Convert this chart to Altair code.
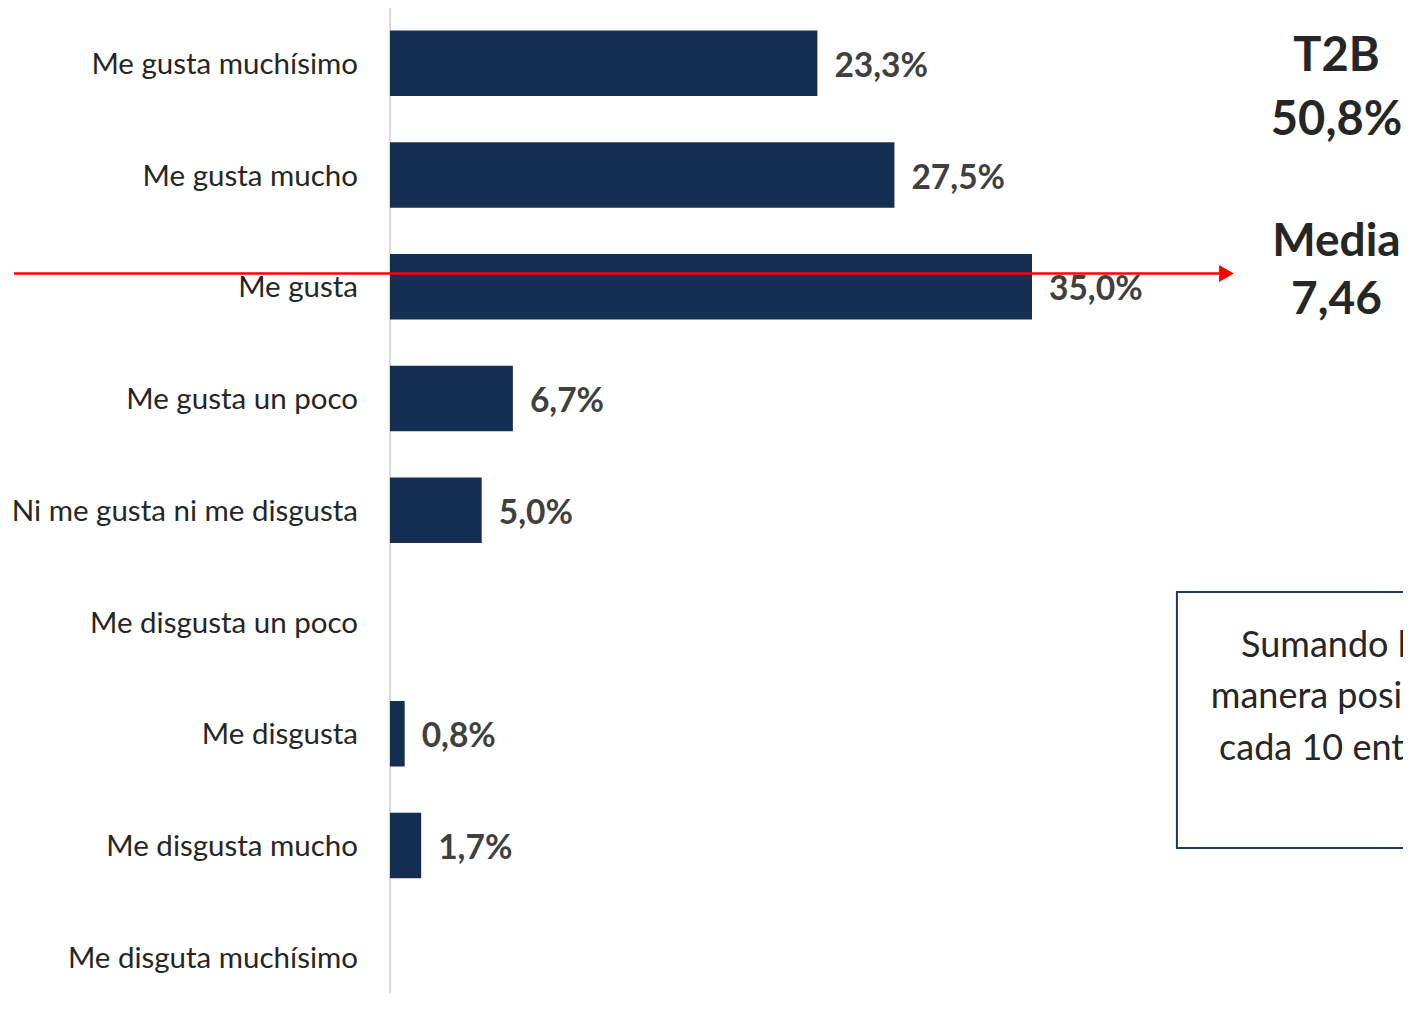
import altair as alt
import pandas as pd

categories = [
    "Me gusta muchísimo",
    "Me gusta mucho",
    "Me gusta",
    "Me gusta un poco",
    "Ni me gusta ni me disgusta",
    "Me disgusta un poco",
    "Me disgusta",
    "Me disgusta mucho",
    "Me disguta muchísimo",
]
values = [23.3, 27.5, 35.0, 6.7, 5.0, 0.0, 0.8, 1.7, 0.0]
value_labels = ["23,3%", "27,5%", "35,0%", "6,7%", "5,0%", "", "0,8%", "1,7%", ""]

t2b_lines = ["T2B", "50,8%"]
media_lines = ["Media", "7,46"]
box_lines = ["Sumando los que valoran de", "manera positiva, 5 de", "cada 10 entrevistados"]

df = pd.DataFrame({
    "cat": categories,
    "value": values,
    "label": value_labels,
    "row": list(range(len(categories))),
})

FONT = "Lato"
BAR = "#142f52"
W = 1013
PX_PER = 18.343

xs = alt.Scale(domain=[0, W / PX_PER], nice=False, zero=False)
ys = alt.Scale(domain=[-0.492, 8.323], reverse=True, nice=False, zero=False)

base = alt.Chart(df)

axis_line = alt.Chart(df).mark_rule(color="#d9d9d9", strokeWidth=2).encode(
    x=alt.X("z:Q", scale=xs, axis=None)
).transform_calculate(z="0").transform_filter("datum.row == 0")

bars = base.transform_filter("datum.value > 0").transform_calculate(
    y1="datum.row - 0.29", y2="datum.row + 0.295"
).mark_bar(color=BAR).encode(
    x=alt.X("value:Q", scale=xs, axis=None),
    x2=alt.datum(0),
    y=alt.Y("y1:Q", scale=ys, axis=None),
    y2="y2:Q",
)

cat_labels = base.transform_calculate(zero="0").mark_text(
    align="right", baseline="middle", dx=-32, dy=2, font=FONT, fontSize=29.5, color="#262626"
).encode(
    x=alt.X("zero:Q", scale=xs, axis=None),
    y=alt.Y("row:Q", scale=ys, axis=None),
    text="cat:N",
)

val_labels = base.transform_filter("datum.value > 0").mark_text(
    align="left", baseline="middle", dx=17, dy=4, font=FONT, fontSize=33.5,
    fontWeight="bold", color="#404040"
).encode(
    x=alt.X("value:Q", scale=xs, axis=None),
    y=alt.Y("row:Q", scale=ys, axis=None),
    text="label:N",
)

def text_block(lines, x, y0, dy_row, size, weight, align, clip=False):
    d = pd.DataFrame({"t": lines, "i": list(range(len(lines)))})
    return alt.Chart(d).transform_calculate(
        yy=f"{y0} + datum.i * {dy_row}", xx=f"{x}"
    ).mark_text(
        align=align, baseline="middle", font=FONT, fontSize=size,
        fontWeight=weight, color="#262626", clip=clip
    ).encode(
        x=alt.X("xx:Q", scale=xs, axis=None),
        y=alt.Y("yy:Q", scale=ys, axis=None),
        text="t:N",
    )

t2b = text_block(t2b_lines, 51.6, -0.05, 0.565, 47, "bold", "center")
media = text_block(media_lines, 51.6, 1.60, 0.52, 46, "bold", "center")

arrow_df = pd.DataFrame({"x1": [-20.5], "x2": [45.2], "y": [1.885]})
arrow_line = alt.Chart(arrow_df).mark_rule(color="#ff0000", strokeWidth=2.5).encode(
    x=alt.X("x1:Q", scale=xs, axis=None),
    x2="x2:Q",
    y=alt.Y("y:Q", scale=ys, axis=None),
)
arrow_head = alt.Chart(arrow_df).transform_calculate(hx="45.6").mark_point(
    shape="triangle-right", filled=True, color="#ff0000", size=290, opacity=1
).encode(
    x=alt.X("hx:Q", scale=xs, axis=None),
    y=alt.Y("y:Q", scale=ys, axis=None),
)

box_df = pd.DataFrame({"x1": [42.9], "x2": [70.0], "y1": [4.735], "y2": [7.025]})
box = alt.Chart(box_df).mark_rect(
    fill="white", stroke="#1f3864", strokeWidth=2, clip=True
).encode(
    x=alt.X("x1:Q", scale=xs, axis=None),
    x2="x2:Q",
    y=alt.Y("y1:Q", scale=ys, axis=None),
    y2="y2:Q",
)

box_text = alt.layer(
    text_block([box_lines[0]], 46.4, 5.215, 0.46, 36, "normal", "left", clip=True),
    text_block([box_lines[1]], 44.75, 5.675, 0.46, 36, "normal", "left", clip=True),
    text_block([box_lines[2]], 45.2, 6.135, 0.46, 36, "normal", "left", clip=True),
)

chart = alt.layer(
    axis_line, bars, cat_labels, val_labels, t2b, media, box, box_text,
    arrow_line, arrow_head
).properties(
    width=W, height=985,
    padding={"left": 382, "top": 0, "right": 0, "bottom": 0},
    autosize=alt.AutoSizeParams(type="none"),
).configure_view(stroke=None)

chart.save("out.html", embed_options={"renderer": "svg", "actions": False})
